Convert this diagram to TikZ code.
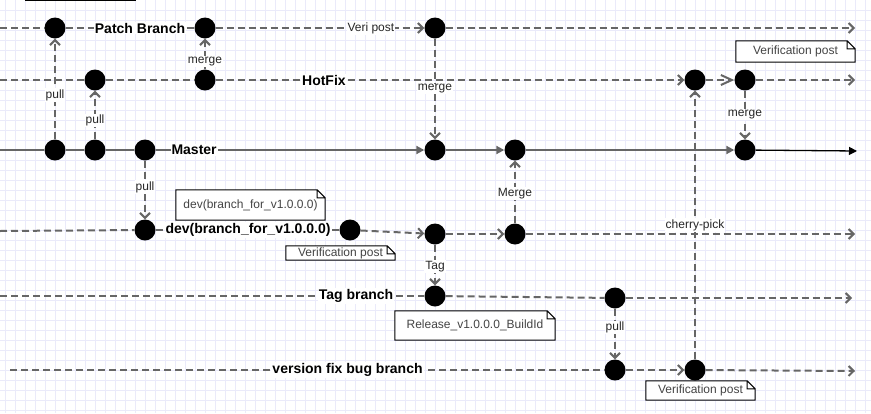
\documentclass[tikz,border=0pt]{standalone}
\usepackage{fontspec}
\setmainfont{Liberation Sans}
\usetikzlibrary{arrows.meta}
\definecolor{linegray}{HTML}{666666}
\definecolor{gridblue}{RGB}{234,234,250}
\definecolor{notetext}{HTML}{444444}

\tikzset{
  commit/.style={circle,fill=black,minimum size=21pt,inner sep=0pt},
  flow/.style={draw=linegray,line width=2pt,dash pattern=on 7pt off 4pt},
  trunk/.style={draw=linegray,line width=2pt},
  barb/.style={-{Straight Barb[length=5pt,width=10pt]}},
  bigbarb/.style={-{Straight Barb[length=11pt,width=10pt]}},
  tri/.style={-{Triangle[length=8pt,width=8pt]}},
  lbl/.style={fill=white,inner sep=1pt,font=\fontsize{12}{14}\selectfont,text=black!85},
  title/.style={lbl,font=\fontsize{14}{16}\selectfont\bfseries,text=black},
  note/.style={fill=white,inner sep=0pt,font=\fontsize{12}{14}\selectfont,text=notetext}
}

\begin{document}
\begin{tikzpicture}[x=1pt,y=-1pt]
  \useasboundingbox (0,0) rectangle (871,413);
  \fill[white] (0,0) rectangle (871,413);
  % grid
  \foreach \x in {5,15,...,865}
    \draw[gridblue,line width=1pt] (\x,0) -- (\x,413);
  \foreach \y in {10,20,...,410}
    \draw[gridblue,line width=1pt] (0,\y) -- (871,\y);
  \draw[line width=1.2pt] (25,0.6) -- (136,0.6);

  % commits
  \node[commit] (p1) at (55,28) {};
  \node[commit] (p2) at (205,28) {};
  \node[commit] (p3) at (435,28) {};
  \node[commit] (h1) at (95,80) {};
  \node[commit] (h2) at (205,80) {};
  \node[commit] (h3) at (695,80) {};
  \node[commit] (h4) at (745,80) {};
  \node[commit] (m1) at (55,150) {};
  \node[commit] (m2) at (95,150) {};
  \node[commit] (m3) at (145,150) {};
  \node[commit] (m4) at (435,150) {};
  \node[commit] (m5) at (515,150) {};
  \node[commit] (m6) at (745,150) {};
  \node[commit] (d1) at (145,230) {};
  \node[commit] (d2) at (350,230) {};
  \node[commit] (d3) at (435,234) {};
  \node[commit] (d4) at (515,234) {};
  \node[commit] (t1) at (435,296) {};
  \node[commit] (t2) at (615,298) {};
  \node[commit] (b1) at (615,370) {};
  \node[commit] (b2) at (695,370) {};

  % branch ends
  \coordinate (ps) at (0,28);   \coordinate (pe) at (855,28);
  \coordinate (hs) at (0,80);   \coordinate (he) at (855,80);
  \coordinate (ms) at (0,150);  \coordinate (me) at (857,151);
  \coordinate (ds) at (0,231);  \coordinate (de) at (855,234);
  \coordinate (ts) at (0,296);  \coordinate (te) at (852,298);
  \coordinate (bs) at (10,370); \coordinate (be) at (855,371);

  % branches
  \foreach \from/\to in {ps/p1,hs/h1,h1/h2,ds/d1,t1/t2}
    \draw[flow] (\from) -- (\to);
  \foreach \from/\to in {p3/pe,h4/he,d2/d3,d3/d4,d4/de,t2/te,b1/b2,b2/be}
    \draw[flow,barb] (\from) -- (\to);
  \foreach \from/\to in {ms/m1,m1/m2,m2/m3}
    \draw[trunk] (\from) -- (\to);
  \foreach \from/\to in {m4/m5,m5/m6}
    \draw[trunk,tri] (\from) -- (\to);
  \draw[flow,bigbarb] (h3) -- (h4);
  \draw[black,line width=1.3pt,tri] (m6) -- (me);

  \draw[flow] (p1) -- node[title,pos=.578] {Patch Branch} (p2);
  \draw[flow,barb] (p2) -- node[lbl,pos=.744] {Veri post} (p3);
  \draw[flow,barb] (h2) -- node[title,pos=.231] {HotFix} (h3);
  \draw[trunk,tri] (m3) -- node[title,pos=.143] {Master} (m4);
  \draw[flow] (d1) -- node[title,pos=.503] {dev(branch\_for\_v1.0.0.0)} (d2);
  \draw[flow] (ts) -- node[title,pos=.839] {Tag branch} (t1);
  \draw[flow] (bs) -- node[title,pos=.568] {version fix bug branch} (b1);

  % merges and pulls
  \draw[flow,barb] (m1) -- node[lbl,pos=.44] {pull} (p1);
  \draw[flow,barb] (m2) -- node[lbl,pos=.38] {pull} (h1);
  \draw[flow,barb] (h2) -- node[lbl,pos=.27] {merge} (p2);
  \draw[flow,barb] (p3) -- node[lbl,pos=.5] {merge} (m4);
  \draw[flow,barb] (h4) -- node[lbl,pos=.5] {merge} (m6);
  \draw[flow,barb] (m3) -- node[lbl,pos=.45] {pull} (d1);
  \draw[flow,barb] (d4) -- node[lbl,pos=.48] {Merge} (m5);
  \draw[flow,barb] (d3) -- node[lbl,pos=.53] {Tag} (t1);
  \draw[flow,barb] (t2) -- node[lbl,pos=.37] {pull} (b1);
  \draw[flow,barb] (b2) -- node[lbl,pos=.5] {cherry-pick} (h3);

  % notes
  \node[note,minimum width=119pt,minimum height=21pt] (n1) at (795.5,51.5) {Verification post};
  \node[note,minimum width=149pt,minimum height=30pt] (n2) at (250.5,205) {dev(branch\_for\_v1.0.0.0)};
  \node[note,minimum width=109pt,minimum height=14pt] (n3) at (340.5,253) {Verification post};
  \node[note,minimum width=160pt,minimum height=29pt] (n4) at (475,325.5) {Release\_v1.0.0.0\_BuildId};
  \node[note,minimum width=109pt,minimum height=19pt] (n5) at (700.5,390.5) {Verification post};
  \foreach \n in {n1,n2,n3,n4,n5}
    \draw[line width=1pt] (\n.south west) -- (\n.north west) -- ([xshift=-8pt]\n.north east)
      -- ([yshift=-8pt]\n.north east) -- (\n.south east) -- cycle
      ([xshift=-8pt]\n.north east) |- ([yshift=-8pt]\n.north east);
\end{tikzpicture}
\end{document}
